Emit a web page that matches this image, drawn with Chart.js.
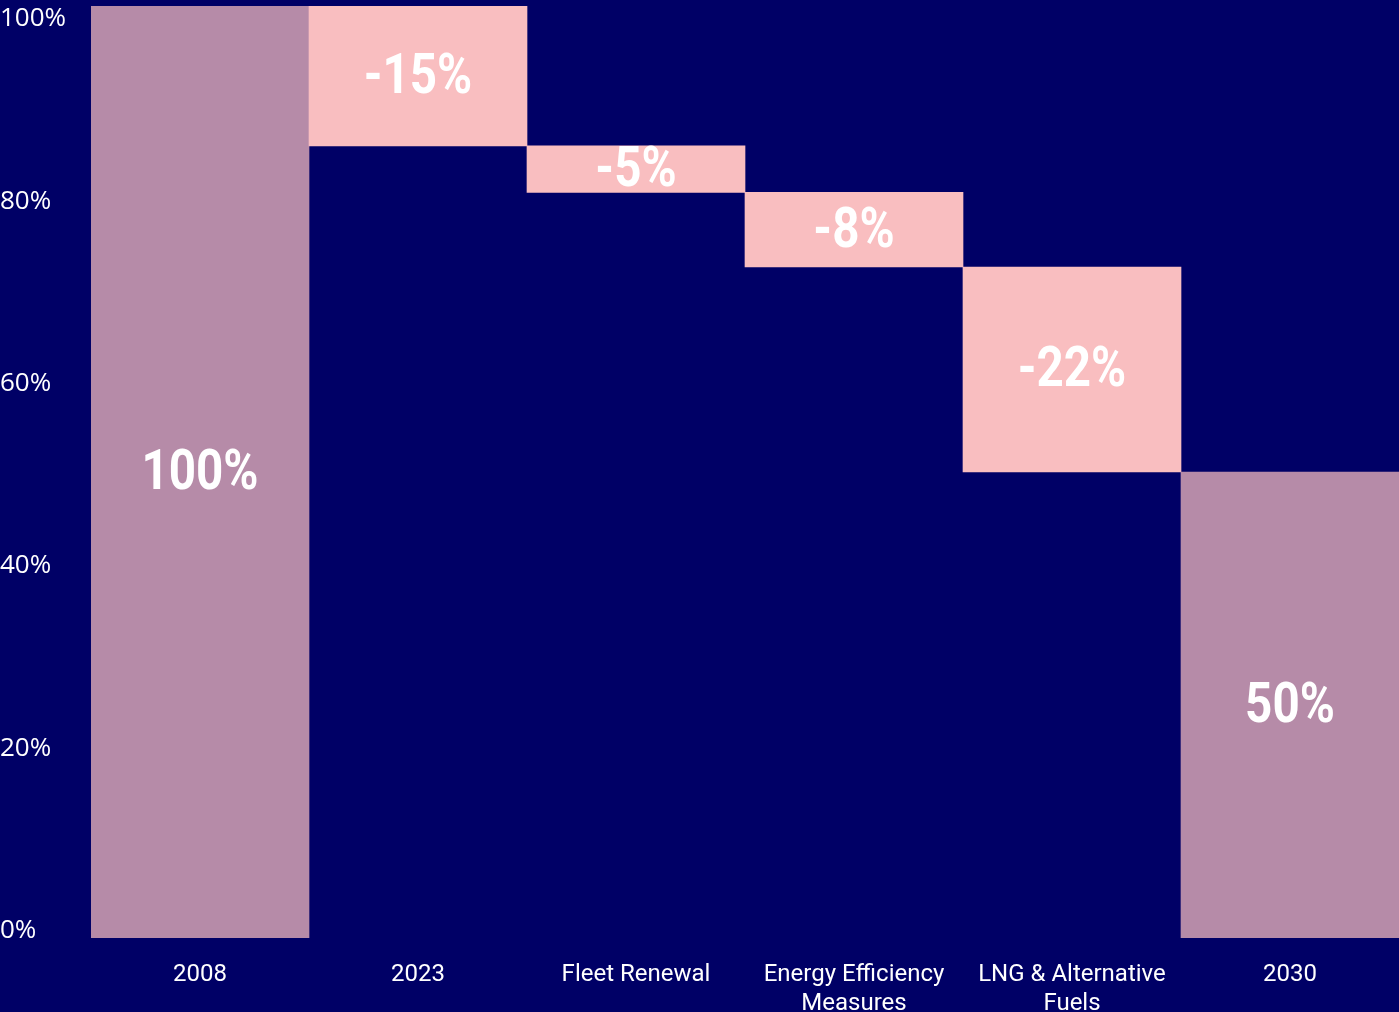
<!DOCTYPE html>
<html lang="en">
<head>
  <meta charset="UTF-8">
  <title>Emissions Pathway 2008 – 2030</title>
  <script src="https://cdn.jsdelivr.net/npm/chart.js"></script>
  <style>
    html, body { margin: 0; padding: 0; background: #000066; overflow: hidden; }
    .wrap { width: 1399px; height: 1012px; }
  </style>
</head>
<body>
  <div class="wrap"><canvas id="pathChart"></canvas></div>

  <script>
    // categories along the x axis (arrays wrap onto two lines)
    const categories = [
      '2008',
      '2023',
      'Fleet Renewal',
      ['Energy Efficiency', 'Measures'],
      ['LNG & Alternative', 'Fuels']
    ];
    const targetLabel = '2030';

    // starting level, the reductions, and where they end up
    const baseline = 100;
    const reductions = [-15, -5, -8, -22];
    const target = 50;

    const yTicks = [0, 20, 40, 60, 80, 100];

    const totalColor = '#b68ba8';
    const stepColor  = '#f9bec0';

    // build floating ranges for the waterfall
    const labels = [...categories, targetLabel];
    const ranges = [[0, baseline]];
    const shown  = [baseline];
    const colors = [totalColor];
    let level = baseline;
    reductions.forEach(r => {
      ranges.push([level + r, level]);
      shown.push(r);
      colors.push(stepColor);
      level += r;
    });
    ranges.push([0, target]);
    shown.push(target);
    colors.push(totalColor);

    // write each bar's value in its middle
    const barValues = {
      id: 'barValues',
      afterDatasetsDraw(chart) {
        const { ctx } = chart;
        const meta = chart.getDatasetMeta(0);
        ctx.save();
        ctx.fillStyle = '#ffffff';
        ctx.font = 'bold 56px Roboto';
        ctx.textAlign = 'center';
        ctx.textBaseline = 'middle';
        meta.data.forEach((bar, i) => {
          const p = bar.getCenterPoint();
          ctx.save();
          ctx.translate(p.x, p.y + 3);
          ctx.scale(0.85, 1);
          ctx.fillText(shown[i] + '%', 0, 0);
          ctx.restore();
        });
        ctx.restore();
      }
    };

    new Chart(document.getElementById('pathChart'), {
      type: 'bar',
      data: {
        labels,
        datasets: [{
          data: ranges,
          backgroundColor: colors,
          borderWidth: 0,
          barPercentage: 1,
          categoryPercentage: 1
        }]
      },
      options: {
        responsive: true,
        maintainAspectRatio: false,
        animation: false,
        layout: { padding: { top: 6, left: 0, right: 0, bottom: 0 } },
        plugins: {
          legend: { display: false },
          tooltip: { enabled: false }
        },
        scales: {
          x: {
            grid: { display: false },
            border: { display: false },
            ticks: {
              color: '#ffffff',
              font: { family: 'Roboto', size: 24 },
              padding: 15,
              maxRotation: 0,
              autoSkip: false
            },
            afterFit(scale) { scale.height = 74; }
          },
          y: {
            display: false,
            min: 0,
            max: 100
          },
          // percent labels drawn on their own axis
          y2: {
            position: 'left',
            min: -0.82,
            max: 101.43,
            grid: { display: false },
            border: { display: false },
            ticks: {
              color: '#ffffff',
              font: { family: 'Open Sans', size: 26 },
              crossAlign: 'far',
              padding: 0,
              callback: v => v + '%'
            },
            afterBuildTicks(scale) {
              scale.ticks = yTicks.map(v => ({ value: v }));
            },
            afterFit(scale) {
              scale.width = 91;
              scale.paddingTop = 0;
              scale.paddingBottom = 0;
            }
          }
        }
      },
      plugins: [barValues]
    });
  </script>
</body>
</html>
